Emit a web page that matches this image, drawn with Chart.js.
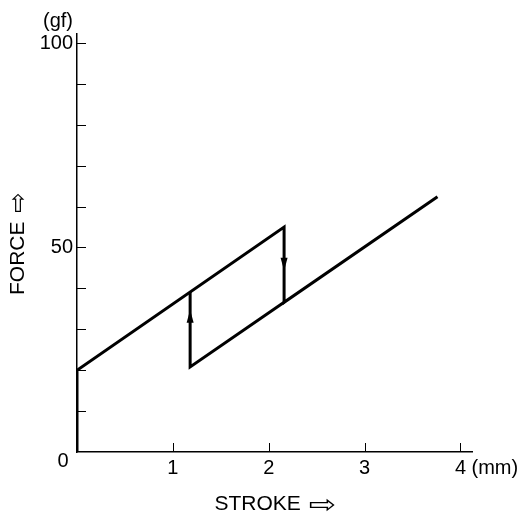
<!DOCTYPE html>
<html>
<head>
<meta charset="utf-8">
<script src="https://cdn.jsdelivr.net/npm/chart.js@4"></script>
<style>
html,body{margin:0;padding:0;background:#fff;}
#wrap{width:529px;height:516px;}
</style>
</head>
<body>
<div id="wrap"><canvas id="c" width="529" height="516"></canvas></div>
<script>
// Loading path (press): stroke in mm, force in gf
const strokeMain = [0, 0, 2.16, 2.16, 3.76];
const forceMain  = [0, 20, 55, 36.6, 62.4];
// Return path (release)
const strokeReturn = [1.18, 1.18, 2.16];
const forceReturn  = [39.1, 20.8, 36.6];
// Direction arrows: stroke, force at tip, direction (+1 up, -1 down)
const arrowStroke = [1.18, 2.16];
const arrowForce  = [34.8, 44.3];
const arrowDir    = [1, -1];
// Axis ticks and labels
const xTicks = [1, 2, 3, 4];
const yTicks = [10, 20, 30, 40, 50, 60, 70, 80, 90, 100];
const yLabels = [50, 100];
const xLabels = [1, 2, 3, 4];
const xTitle = 'STROKE';
const yTitle = 'FORCE';

const FONT = "'Liberation Sans', Arial, 'DejaVu Sans', sans-serif";
const ARROWFONT = "'DejaVu Sans', sans-serif";

function pts(xs, ys){ return xs.map((x,i)=>({x:x, y:ys[i]})); }

const extras = {
  id:'extras',
  afterDraw(chart){
    const ctx = chart.ctx, xs = chart.scales.x, ys = chart.scales.y;
    const x0 = xs.getPixelForValue(0), y0 = ys.getPixelForValue(0);
    ctx.save();
    ctx.strokeStyle = '#000'; ctx.lineWidth = 1;
    // inward tick marks
    yTicks.forEach(v=>{
      const p = Math.round(ys.getPixelForValue(v)) + 0.5;
      ctx.beginPath(); ctx.moveTo(x0, p); ctx.lineTo(x0 + 9, p); ctx.stroke();
    });
    xTicks.forEach(v=>{
      const p = Math.round(xs.getPixelForValue(v)) + 0.5;
      ctx.beginPath(); ctx.moveTo(p, y0); ctx.lineTo(p, y0 - 9); ctx.stroke();
    });
    // arrowheads
    ctx.fillStyle = '#000';
    arrowStroke.forEach((s,i)=>{
      const px = xs.getPixelForValue(s), py = ys.getPixelForValue(arrowForce[i]);
      const d = arrowDir[i];
      ctx.beginPath();
      ctx.moveTo(px, py);
      ctx.lineTo(px - 3.5, py + d*13);
      ctx.lineTo(px + 3.5, py + d*13);
      ctx.closePath(); ctx.fill();
    });
    // small texts
    ctx.font = '20px ' + FONT;
    ctx.textBaseline = 'middle';
    ctx.textAlign = 'center';
    ctx.fillText('0', x0 - 14, y0 + 9);
    ctx.textAlign = 'right';
    ctx.fillText('(gf)', x0 - 4, 21);
    ctx.textAlign = 'left';
    ctx.fillText('(mm)', xs.getPixelForValue(4) + 11, y0 + 16);
    // x title
    const cx = (xs.left + xs.right) / 2;
    ctx.font = '21px ' + FONT;
    const w1 = ctx.measureText(xTitle + ' ').width;
    const tx = cx - 60;
    ctx.fillText(xTitle, tx, 504);
    ctx.save();
    ctx.translate(tx + w1 + 2, 506);
    ctx.scale(1.3, 1);
    ctx.font = '25px ' + ARROWFONT;
    ctx.fillText('⇨', 0, 0);
    ctx.restore();
    // y title (rotated)
    const cy = (ys.top + ys.bottom) / 2;
    ctx.save();
    ctx.translate(18, cy + 52);
    ctx.rotate(-Math.PI/2);
    ctx.font = '21px ' + FONT;
    const w2 = ctx.measureText(yTitle + ' ').width;
    ctx.fillText(yTitle, 0, 0);
    ctx.translate(w2 + 3, 1);
    ctx.scale(1.1, 1.15);
    ctx.font = '22px ' + ARROWFONT;
    ctx.fillText('⇨', 0, 0);
    ctx.restore();
    ctx.restore();
  }
};

new Chart(document.getElementById('c'), {
  type:'scatter',
  data:{
    datasets:[
      {data: pts(strokeMain, forceMain), showLine:true, borderColor:'#000', borderWidth:3, pointRadius:0, fill:false, tension:0},
      {data: pts(strokeReturn, forceReturn), showLine:true, borderColor:'#000', borderWidth:3, pointRadius:0, fill:false, tension:0}
    ]
  },
  options:{
    responsive:false,
    animation:false,
    devicePixelRatio:1,
    layout:{padding:{top:34, right:57, left:0, bottom:0}},
    plugins:{legend:{display:false}, tooltip:{enabled:false}},
    scales:{
      x:{
        type:'linear', min:0, max:4.12,
        afterFit(s){ s.height = 64; },
        grid:{display:false, drawTicks:false},
        border:{display:true, color:'#000', width:1.5},
        ticks:{stepSize:1, includeBounds:false, padding:4, color:'#000', font:{family:FONT, size:20},
          maxRotation:0, autoSkip:false,
          callback:(v)=> xLabels.includes(v) ? String(v) : ''},
        title:{display:false}
      },
      y:{
        type:'linear', min:0, max:102.2,
        afterFit(s){ s.width = 77; },
        grid:{display:false, drawTicks:false},
        border:{display:true, color:'#000', width:1.5},
        ticks:{stepSize:10, includeBounds:false, padding:4, color:'#000', font:{family:FONT, size:20}, autoSkip:false,
          callback:(v)=> yLabels.includes(v) ? String(v) : ''},
        title:{display:false}
      }
    }
  },
  plugins:[extras]
});
</script>
</body>
</html>
